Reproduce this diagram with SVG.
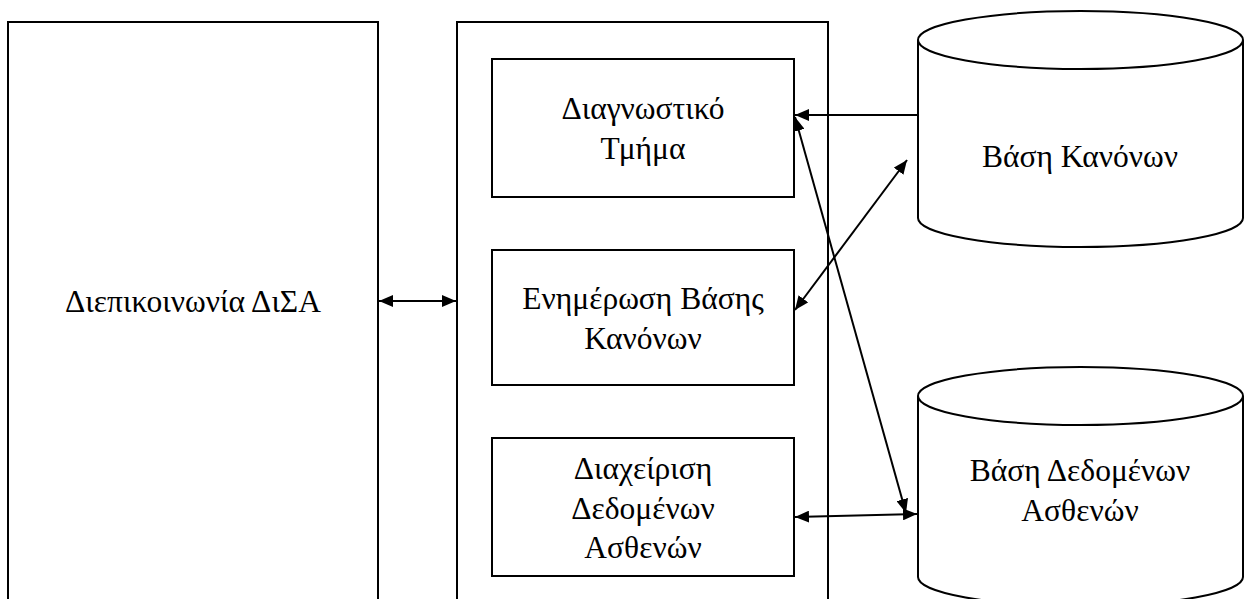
<svg xmlns="http://www.w3.org/2000/svg" width="1244" height="599" viewBox="0 0 1244 599">
  <style>
    .box { fill: #ffffff; stroke: #000000; stroke-width: 2; }
    .lbl { font-family: "Liberation Serif", "Times New Roman", serif; font-size: 31.5px; fill: #000000; text-anchor: middle; }
    .conn { stroke: #000000; stroke-width: 2; fill: none; }
  </style>
  <defs>
    <marker id="arrow" viewBox="0 0 14 12" refX="14" refY="6" markerWidth="14" markerHeight="12" markerUnits="userSpaceOnUse" orient="auto-start-reverse">
      <path d="M0,0 L14,6 L0,12 z" fill="#000000"/>
    </marker>
  </defs>
  <rect width="1244" height="599" fill="#ffffff"/>

  <!-- user interface panel -->
  <g id="interface">
    <rect class="box" x="8" y="22" width="370" height="600"/>
    <text class="lbl" x="193" y="312">Διεπικοινωνία ΔιΣΑ</text>
  </g>

  <!-- core container -->
  <g id="core">
    <rect class="box" x="457" y="22" width="371" height="600"/>
  </g>

  <g id="diagnostic">
    <rect class="box" x="492" y="59" width="302" height="138"/>
    <text class="lbl" x="643" y="119">Διαγνωστικό</text>
    <text class="lbl" x="643" y="159">Τμήμα</text>
  </g>

  <g id="rule-update">
    <rect class="box" x="492" y="250" width="302" height="135"/>
    <text class="lbl" x="643" y="309">Ενημέρωση Βάσης</text>
    <text class="lbl" x="643" y="349">Κανόνων</text>
  </g>

  <g id="patient-data">
    <rect class="box" x="492" y="438" width="302" height="138"/>
    <text class="lbl" x="643" y="479">Διαχείριση</text>
    <text class="lbl" x="643" y="519">Δεδομένων</text>
    <text class="lbl" x="643" y="558">Ασθενών</text>
  </g>

  <!-- rule base store -->
  <g id="rule-base">
    <path class="box" d="M918,40 L918,218 A162.5,29 0 0 0 1243,218 L1243,40"/>
    <ellipse class="box" cx="1080.5" cy="40" rx="162.5" ry="29"/>
    <text class="lbl" x="1080" y="167">Βάση Κανόνων</text>
  </g>

  <!-- patient database store -->
  <g id="patient-db">
    <path class="box" d="M918,396 L918,577 A162.5,29 0 0 0 1243,577 L1243,396"/>
    <ellipse class="box" cx="1080.5" cy="396" rx="162.5" ry="29"/>
    <text class="lbl" x="1080" y="481">Βάση Δεδομένων</text>
    <text class="lbl" x="1080" y="521">Ασθενών</text>
  </g>

  <g id="connectors">
    <line class="conn" x1="379" y1="301" x2="456" y2="301" marker-start="url(#arrow)" marker-end="url(#arrow)"/>
    <line class="conn" x1="918" y1="115" x2="795" y2="115" marker-end="url(#arrow)"/>
    <line class="conn" x1="795" y1="117" x2="906" y2="513" marker-start="url(#arrow)" marker-end="url(#arrow)"/>
    <line class="conn" x1="795" y1="310" x2="907" y2="160" marker-start="url(#arrow)" marker-end="url(#arrow)"/>
    <line class="conn" x1="795" y1="517" x2="917" y2="514" marker-start="url(#arrow)" marker-end="url(#arrow)"/>
  </g>
</svg>
